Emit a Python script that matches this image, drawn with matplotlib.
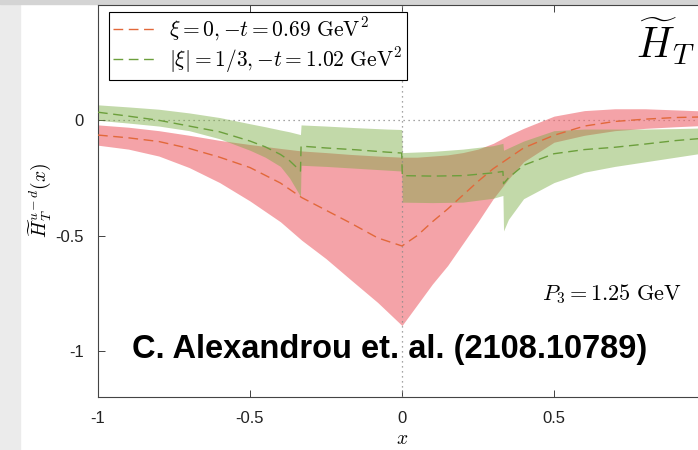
import matplotlib
matplotlib.use("Agg")
import matplotlib.pyplot as plt
from matplotlib.patches import Rectangle
import numpy as np

plt.rcParams['mathtext.fontset'] = 'cm'
plt.rcParams['axes.unicode_minus'] = False
plt.rcParams['font.family'] = ['Liberation Sans', 'DejaVu Sans']

# ---- data: xi = 0, -t = 0.69 GeV^2 ----
red_x = [-1, -0.9, -0.8, -0.7, -0.6, -0.5, -0.4, -0.33, -0.25, -0.17, -0.08, 0,
         0.05, 0.1, 0.15, 0.2, 0.25, 0.3, 0.35, 0.4, 0.5, 0.6, 0.7, 0.8, 0.9, 1.0]
red_mid = [-0.064, -0.076, -0.092, -0.122, -0.16, -0.205, -0.272, -0.335, -0.39, -0.445, -0.51, -0.545,
           -0.50, -0.44, -0.385, -0.325, -0.265, -0.21, -0.165, -0.12, -0.065, -0.025, -0.005, 0.005, 0.012, 0.015]
red_top = [-0.02, -0.03, -0.045, -0.065, -0.087, -0.105, -0.122, -0.133, -0.14, -0.148, -0.155, -0.16,
           -0.16, -0.155, -0.15, -0.14, -0.125, -0.1, -0.065, -0.035, 0.018, 0.042, 0.05, 0.05, 0.045, 0.04]
red_bot = [-0.108, -0.125, -0.155, -0.205, -0.27, -0.35, -0.44, -0.52, -0.6, -0.69, -0.79, -0.89,
           -0.8, -0.71, -0.63, -0.535, -0.44, -0.34, -0.255, -0.18, -0.095, -0.065, -0.045, -0.035, -0.028, -0.022]

# ---- data: |xi| = 1/3, -t = 1.02 GeV^2 ----
grn_x = [-1, -0.9, -0.8, -0.7, -0.6, -0.5, -0.45, -0.4, -0.37, -0.334,
         -0.332, -0.25, -0.15, -0.05, -0.001,
         0.001, 0.1, 0.2, 0.3, 0.332,
         0.334, 0.35, 0.4, 0.5, 0.6, 0.7, 0.8, 0.9, 1.0]
grn_mid = [0.035, 0.018, 0.0, -0.025, -0.05, -0.09, -0.115, -0.148, -0.175, -0.22,
           -0.112, -0.12, -0.128, -0.138, -0.142,
           -0.24, -0.242, -0.24, -0.228, -0.222,
           -0.275, -0.25, -0.195, -0.145, -0.127, -0.117, -0.103, -0.088, -0.077]
grn_top = [0.067, 0.058, 0.048, 0.032, 0.012, -0.015, -0.028, -0.042, -0.05, -0.062,
           -0.02, -0.025, -0.032, -0.038, -0.04,
           -0.14, -0.135, -0.125, -0.11, -0.1,
           -0.13, -0.12, -0.09, -0.045, -0.038, -0.038, -0.038, -0.036, -0.033]
grn_bot = [0.0, -0.012, -0.025, -0.045, -0.08, -0.13, -0.16, -0.2, -0.25, -0.33,
           -0.195, -0.2, -0.208, -0.216, -0.22,
           -0.355, -0.357, -0.355, -0.338, -0.326,
           -0.48, -0.43, -0.34, -0.27, -0.225, -0.2, -0.18, -0.16, -0.14]

labels = [r'$\xi = 0, {-}t = 0.69\ \mathrm{GeV}^2$',
          r'$|\xi| = 1/3, {-}t = 1.02\ \mathrm{GeV}^2$']
xticks = [-1, -0.5, 0, 0.5]
xticklabels = ['-1', '-0.5', '0', '0.5']
yticks = [-1, -0.5, 0]
yticklabels = ['-1', '-0.5', '0']

W, H = 698, 450
fig = plt.figure(figsize=(W / 100, H / 100), dpi=100)
fig.patch.set_facecolor('white')
# screenshot frame
fig.add_artist(Rectangle((0, 0), 20 / W, 1, transform=fig.transFigure, color='#ebebeb', zorder=0))
fig.add_artist(Rectangle((0, 1 - 4 / H), 1, 4 / H, transform=fig.transFigure, color='#d4d4d4', zorder=0))

ax = fig.add_axes([98 / W, 1 - 397 / H, 608 / W, 392 / H])
ax.set_xlim(-1, 1)
ax.set_ylim(-1.2, 0.5)

ax.fill_between(red_x, red_bot, red_top, color='#ee666e', alpha=0.6, lw=0, zorder=1)
ax.fill_between(grn_x, grn_bot, grn_top, color='#79ab42', alpha=0.45, lw=0, zorder=2)

ax.axhline(0, color='#888888', ls=(0, (1, 3)), lw=0.9, zorder=0.5)
ax.axvline(0, color='#888888', ls=(0, (1, 3)), lw=0.9, zorder=3)

l1, = ax.plot(red_x, red_mid, color='#e2683a', lw=1.0, dashes=(7, 4), zorder=4)
l2, = ax.plot(grn_x, grn_mid, color='#6c9f3c', lw=1.0, dashes=(7, 4), zorder=4)

leg = ax.legend([l1, l2], labels, loc='upper left', bbox_to_anchor=(0.018, 0.983),
                fontsize=15.5, frameon=True, fancybox=False, framealpha=1,
                edgecolor='black', handlelength=2.0, borderpad=0.2, labelspacing=0.1,
                handletextpad=0.6, borderaxespad=0)
leg.get_frame().set_linewidth(0.8)

ax.set_xticks(xticks)
ax.set_xticklabels(xticklabels)
ax.set_yticks(yticks)
ax.set_yticklabels(yticklabels)
ax.tick_params(direction='in', length=5, width=0.6, labelsize=12, colors='#222222',
               top=True, right=True, pad=10)
for s in ['left', 'bottom', 'top', 'right']:
    ax.spines[s].set_color('#444444')
    ax.spines[s].set_linewidth(0.8)

ax.set_xlabel(r'$x$', fontsize=14, labelpad=4)
ax.set_ylabel(r'$\widetilde{H}_T^{u-d}(x)$', fontsize=14, labelpad=2)

ax.text(0.982, 0.906, r'$\widetilde{H}_T$', transform=ax.transAxes, fontsize=30,
        ha='right', va='center')
ax.text(0.69, -0.755, r'$P_3 = 1.25\ \mathrm{GeV}$', fontsize=16, ha='center', va='center')
ax.text(-0.04, -0.995, 'C. Alexandrou et. al. (2108.10789)', fontsize=23.5, fontweight='bold',
        ha='center', va='center', color='black', zorder=6)

fig.savefig('out.png', dpi=100)
